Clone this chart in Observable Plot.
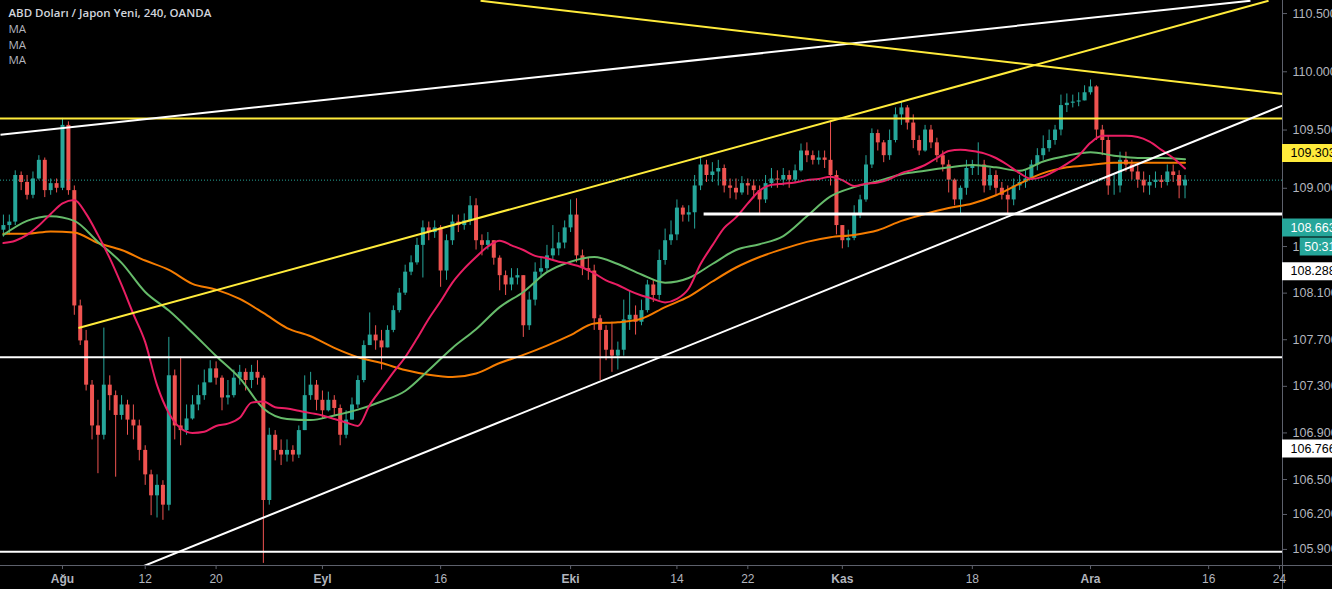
<!DOCTYPE html>
<html>
<head>
<meta charset="utf-8">
<script src="https://cdn.jsdelivr.net/npm/d3@7"></script>
<script src="https://cdn.jsdelivr.net/npm/@observablehq/plot@0.6"></script>
<style>
html, body { margin: 0; padding: 0; background: #000; }
#chart { position: relative; width: 1332px; height: 589px; overflow: hidden; background: #000; }
</style>
</head>
<body>
<div id="chart"></div>
<script>
// ---------- DATA (USD/JPY, 12h candles; t = trading-day index, 1 Aug = 0) ----------
const candleStart = -5;
const candleStep = 0.5;
const firstOpen = 108.64;
const closes = [
 108.68,108.71,109.11,109.05,108.94,109.08,109.24,108.98,109.04,109.00,
 109.54,108.98,107.99,107.69,107.31,106.96,106.88,107.31,107.22,107.05,
 107.14,107.01,106.96,106.75,106.54,106.36,106.45,106.28,107.39,106.96,
 106.92,107.02,107.14,107.22,107.33,107.45,107.37,107.20,107.22,107.37,
 107.42,107.35,107.42,107.37,106.32,106.88,106.75,106.71,106.75,106.71,
 106.92,107.22,107.31,107.18,107.09,107.18,107.11,106.88,107.01,107.14,
 107.35,107.65,107.74,107.69,107.63,107.78,107.95,108.10,108.28,108.36,
 108.51,108.66,108.62,108.66,108.29,108.55,108.71,108.68,108.72,108.85,
 108.55,108.51,108.55,108.40,108.25,108.17,108.23,108.25,107.82,108.04,
 108.28,108.31,108.42,108.48,108.53,108.66,108.77,108.42,108.31,108.29,
 107.88,107.78,107.61,107.56,107.61,107.87,107.91,107.85,107.95,108.17,
 108.08,108.38,108.55,108.60,108.83,108.77,108.79,109.02,109.20,109.11,
 109.14,109.17,109.02,109.00,108.96,109.04,109.02,108.98,108.90,109.04,
 109.08,109.07,109.11,109.07,109.15,109.32,109.28,109.24,109.26,109.24,
 109.11,108.68,108.55,108.57,108.77,108.90,109.20,109.47,109.39,109.28,
 109.41,109.63,109.69,109.56,109.41,109.32,109.50,109.39,109.28,109.20,
 109.07,108.90,109.00,109.17,109.20,109.20,109.02,109.11,109.00,108.94,
 108.90,109.02,109.05,109.08,109.20,109.28,109.34,109.41,109.50,109.71,
 109.73,109.74,109.75,109.82,109.87,109.50,109.41,109.02,109.02,109.24,
 109.20,109.14,109.07,109.02,109.05,109.07,109.05,109.14,109.11,109.02,
 109.07
];
const highs = [
 108.77,108.77,109.15,109.14,109.11,109.14,109.28,109.26,109.08,109.08,
 109.60,109.57,109.02,108.04,107.78,107.35,107.18,107.80,107.39,107.26,
 107.22,107.18,107.14,107.01,106.79,106.58,106.54,106.49,107.72,107.44,
 107.55,107.14,107.22,107.31,107.44,107.52,107.51,107.39,107.35,107.44,
 107.48,107.45,107.48,107.52,107.39,106.94,106.92,106.84,106.84,106.79,
 106.96,107.39,107.42,107.35,107.26,107.25,107.22,107.14,107.09,107.20,
 107.39,107.69,107.93,107.82,107.78,107.82,107.99,108.14,108.34,108.42,
 108.57,108.72,108.71,108.72,108.68,108.60,108.77,108.77,108.78,108.93,
 108.91,108.60,108.62,108.51,108.42,108.29,108.31,108.31,108.25,108.11,
 108.36,108.40,108.51,108.68,108.62,108.72,108.90,108.91,108.47,108.40,
 108.34,107.91,107.82,107.85,107.68,108.04,108.12,107.99,108.04,108.21,
 108.21,108.47,108.65,108.72,108.90,108.85,108.85,109.11,109.26,109.24,
 109.22,109.24,109.20,109.08,109.08,109.10,109.08,109.07,109.02,109.11,
 109.17,109.15,109.17,109.15,109.20,109.38,109.39,109.32,109.32,109.32,
 109.58,109.15,108.68,108.64,108.85,108.94,109.28,109.51,109.50,109.41,
 109.50,109.69,109.74,109.71,109.63,109.45,109.54,109.54,109.43,109.32,
 109.24,109.08,109.02,109.24,109.24,109.39,109.24,109.17,109.15,109.05,
 109.02,109.08,109.11,109.15,109.24,109.34,109.45,109.50,109.54,109.80,
 109.81,109.80,109.82,109.88,109.93,109.88,109.54,109.45,109.11,109.31,
 109.31,109.24,109.20,109.14,109.11,109.14,109.11,109.20,109.20,109.15,
 109.11
];
const lows = [
 108.58,108.60,108.68,108.98,108.90,108.91,109.07,108.92,108.94,108.96,
 108.98,108.94,107.91,107.65,107.26,106.84,106.55,106.84,107.09,106.52,
 107.01,106.88,106.84,106.66,106.45,106.19,106.17,106.15,106.23,106.84,
 106.79,106.88,107.01,107.09,107.18,107.35,107.31,107.09,107.14,107.20,
 107.31,107.26,107.28,107.31,105.78,106.28,106.66,106.62,106.65,106.65,
 106.68,106.92,107.18,107.09,107.02,107.08,107.05,106.79,106.85,107.01,
 107.11,107.33,107.65,107.61,107.44,107.65,107.76,107.93,108.08,108.25,
 108.34,108.23,108.55,108.57,108.15,108.21,108.51,108.62,108.64,108.68,
 108.47,108.42,108.47,108.34,108.12,108.08,108.12,108.17,107.72,107.78,
 107.99,108.23,108.28,108.38,108.42,108.48,108.62,108.36,108.25,108.21,
 107.78,107.35,107.52,107.42,107.44,107.56,107.78,107.74,107.82,107.93,
 108.02,108.04,108.34,108.51,108.55,108.71,108.71,108.65,108.98,109.05,
 109.05,109.02,108.96,108.91,108.90,108.94,108.94,108.91,108.78,108.87,
 109.00,109.00,109.02,109.00,109.05,109.14,109.22,109.20,109.20,109.17,
 109.02,108.60,108.48,108.49,108.55,108.74,108.88,109.17,109.32,109.22,
 109.24,109.39,109.54,109.50,109.34,109.28,109.31,109.34,109.22,109.14,
 108.96,108.85,108.77,108.94,109.11,109.11,108.96,108.98,108.94,108.90,
 108.78,108.85,108.98,109.00,109.07,109.15,109.24,109.31,109.37,109.45,
 109.65,109.69,109.70,109.75,109.80,109.41,109.28,108.94,108.94,108.96,
 109.14,109.07,109.00,108.96,108.94,109.00,109.00,109.02,109.05,108.91,
 108.91
];

// Moving averages
const maFastStart = -5, maFastStep = 1;
const maFast = [
 108.53,108.55,108.60,108.68,108.78,108.87,108.90,108.78,108.60,108.40,
 108.17,107.92,107.68,107.31,107.07,106.94,106.90,106.91,106.96,106.98,
 107.03,107.16,107.17,107.12,107.11,107.09,107.07,107.05,107.02,106.99,
 106.96,107.14,107.28,107.42,107.55,107.71,107.88,108.03,108.19,108.31,
 108.41,108.50,108.55,108.51,108.47,108.42,108.40,108.37,108.35,108.32,
 108.27,108.21,108.17,108.12,108.08,108.05,108.02,108.05,108.14,108.35,
 108.51,108.66,108.75,108.87,108.98,109.03,109.04,109.05,109.07,109.08,
 109.10,109.07,109.02,109.04,109.05,109.08,109.13,109.16,109.20,109.26,
 109.32,109.33,109.32,109.30,109.26,109.20,109.13,109.08,109.10,109.15,
 109.21,109.28,109.39,109.45,109.45,109.45,109.44,109.40,109.33,109.26,
 109.17
];
const maSlowStart = -5, maSlowStep = 2;
const maMid = [
 108.60,108.72,108.76,108.72,108.54,108.36,108.11,107.95,107.76,107.56,
 107.37,107.11,107.02,107.01,107.05,107.10,107.17,107.26,107.44,107.63,
 107.79,107.98,108.11,108.28,108.37,108.41,108.35,108.26,108.19,108.23,
 108.35,108.47,108.52,108.59,108.76,108.93,109.01,109.06,109.12,109.15,
 109.18,109.20,109.18,109.15,109.23,109.28,109.31,109.28,109.26,109.26,
 109.25
];
const maLong = [
 108.61,108.61,108.63,108.62,108.53,108.47,108.38,108.30,108.18,108.13,
 108.05,107.93,107.80,107.73,107.63,107.55,107.50,107.44,107.40,107.38,
 107.41,107.50,107.57,107.65,107.74,107.84,107.85,107.88,107.98,108.07,
 108.20,108.32,108.41,108.48,108.54,108.58,108.60,108.64,108.72,108.78,
 108.83,108.87,108.94,109.04,109.13,109.18,109.20,109.22,109.22,109.22,
 109.22
];

// Drawn trendlines (t, price) endpoints
const trendKinds = ["white", "yellow", "yellow", "white"];
const trendT1 = [-5.25, 1.35, 35.38, 6.69];
const trendP1 = [109.46, 107.80, 110.61, 105.75];
const trendT2 = [100.54, 102.07, 103.25, 103.25];
const trendP2 = [110.61, 110.61, 109.81, 109.71];
// Horizontal levels
const levelKinds = ["yellow", "white", "white"];
const levelPrices = [109.60, 107.55, 105.88];
const shortLevelStart = 54.3;
const shortLevelPrice = 108.78;

// Axis ticks
const xTickValues = [0, 7, 13, 22, 32, 43, 52, 58, 66, 77, 87, 97, 103];
const xTickLabels = ["Ağu", "12", "20", "Eyl", "16", "Eki", "14", "22", "Kas", "18", "Ara", "16", "24"];
const monthLabels = ["Ağu", "Eyl", "Eki", "Kas", "Ara"];
const yTickValues = [110.5, 110.0, 109.5, 109.0, 108.5, 108.1, 107.7, 107.3, 106.9, 106.5, 106.2, 105.9];
// Price tags on the right scale
const tagPrices = [109.303, 108.663, 108.288, 106.766];
const tagKinds = ["yellow", "teal", "white", "white"];
const countdownText = "50:31";
const titleText = "ABD Doları / Japon Yeni, 240, OANDA";
const legendItems = ["MA", "MA", "MA"];

// ---------- BUILD ----------
const UP = "#26a69a", DOWN = "#ef5350";
const palette = { yellow: "#ffeb3b", white: "#ffffff", teal: "#26a69a" };
const tagText = { yellow: "#000000", white: "#000000", teal: "#ffffff" };

const candles = closes.map((c, i) => {
  const o = i ? closes[i - 1] : firstOpen;
  return { t: candleStart + i * candleStep, o, c,
           h: Math.max(highs[i], o, c), l: Math.min(lows[i], o, c) };
});
const lastClose = closes[closes.length - 1];
const fast = maFast.map((p, i) => ({ t: maFastStart + i * maFastStep, p }));
const mid = maMid.map((p, i) => ({ t: maSlowStart + i * maSlowStep, p }));
const long = maLong.map((p, i) => ({ t: maSlowStart + i * maSlowStep, p }));
const trends = trendKinds.map((k, i) => ({ k, t1: trendT1[i], p1: trendP1[i], t2: trendT2[i], p2: trendP2[i] }));
const levels = levelKinds.map((k, i) => ({ k, p: levelPrices[i] }));
const tags = tagPrices.map((p, i) => ({ p, k: tagKinds[i], label: d3.format(".3f")(p) }));
const xTicks = xTickValues.map((t, i) => ({ t, label: xTickLabels[i] }));

const xDomain = [-5.247, 103.25];
const yDomain = [105.762, 110.612];
const tickLen = 0.035; // price units ≈ 4px
const axisFont = "'Liberation Sans Narrow','Liberation Sans',Arial,sans-serif";
const scaleFont = "'Liberation Sans',Arial,sans-serif";
const axisColor = "#5d606b";
const labelColor = "#b2b5be";
const legendFont = "'Open Sans',sans-serif";

const chart = Plot.plot({
  width: 1332,
  height: 589,
  marginLeft: 0,
  marginTop: 0,
  marginRight: 50,
  marginBottom: 24,
  style: { background: "#000", color: labelColor, overflow: "hidden" },
  x: { type: "linear", domain: xDomain, axis: null },
  y: { type: "linear", domain: yDomain, axis: null },
  marks: [
    // candles
    Plot.ruleX(candles, { x: "t", y1: "l", y2: "h", stroke: d => d.c >= d.o ? UP : DOWN, strokeWidth: 1, clip: true }),
    Plot.ruleX(candles, { x: "t", y1: "o", y2: "c", stroke: d => d.c >= d.o ? UP : DOWN, strokeWidth: 4, clip: true }),
    // moving averages
    Plot.line(long, { x: "t", y: "p", stroke: "#f57c00", strokeWidth: 2, curve: "monotone-x", clip: true }),
    Plot.line(mid, { x: "t", y: "p", stroke: "#66bb6a", strokeWidth: 2, curve: "monotone-x", clip: true }),
    Plot.line(fast, { x: "t", y: "p", stroke: "#e91e63", strokeWidth: 2, curve: "monotone-x", clip: true }),
    // horizontal levels
    Plot.ruleY(levels, { y: "p", stroke: d => palette[d.k], strokeWidth: 2, clip: true }),
    Plot.ruleY([shortLevelPrice], { y: d => d, x1: shortLevelStart, x2: xDomain[1], stroke: "#ffffff", strokeWidth: 3, clip: true }),
    // trendlines
    Plot.link(trends, { x1: "t1", y1: "p1", x2: "t2", y2: "p2", stroke: d => palette[d.k], strokeWidth: 2, clip: true }),
    // last price dotted line
    Plot.ruleY([lastClose], { y: d => d, stroke: UP, strokeWidth: 1, strokeDasharray: "1,2", clip: true }),
    // axis lines
    Plot.ruleY([yDomain[0]], { y: d => d, x1: xDomain[0], x2: xDomain[1] + 10, stroke: axisColor, strokeWidth: 1 }),
    Plot.ruleX([xDomain[1]], { x: d => d, y1: yDomain[1], y2: yDomain[0] - 1, stroke: axisColor, strokeWidth: 1 }),
    // y axis ticks & labels
    Plot.axisY({ anchor: "right", ticks: yTickValues, tickFormat: d3.format(".3f"), tickSize: 4, tickPadding: 6,
                 fontSize: 12.5, fontFamily: scaleFont, stroke: axisColor, fill: labelColor }),
    // x axis ticks
    Plot.ruleX(xTickValues, { x: d => d, y1: yDomain[0], y2: yDomain[0] - tickLen, stroke: axisColor }),
    // x labels
    Plot.text(xTicks.filter(d => monthLabels.includes(d.label)), { x: "t", y: () => yDomain[0], dy: 14, text: "label",
      fill: labelColor, fontSize: 12, fontWeight: "bold", fontFamily: axisFont }),
    Plot.text(xTicks.filter(d => !monthLabels.includes(d.label)), { x: "t", y: () => yDomain[0], dy: 14, text: "label",
      fill: labelColor, fontSize: 12, fontFamily: axisFont }),
    // price tags
    Plot.ruleY(tags, { y: "p", x1: xDomain[1], x2: xDomain[1] + 6, stroke: d => palette[d.k], strokeWidth: 18 }),
    Plot.text(tags, { y: "p", x: () => xDomain[1], dx: 8, text: "label", fill: d => tagText[d.k], textAnchor: "start",
      fontSize: 12.5, fontFamily: scaleFont }),
    Plot.ruleY([tagPrices[1]], { y: d => d, x1: xDomain[1] + 1.5, x2: xDomain[1] + 6, dy: 19, stroke: palette.teal, strokeWidth: 18 }),
    Plot.text([countdownText], { y: () => tagPrices[1], x: () => xDomain[1] + 1.5, dx: 4, dy: 19, text: d => d, fill: "#ffffff",
      textAnchor: "start", fontSize: 12.5, fontFamily: scaleFont }),
    // legend
    Plot.text([titleText], { frameAnchor: "top-left", lineAnchor: "middle", dx: 8, dy: 13, text: d => d, fill: "#d1d4dc",
      fontSize: 11.5, fontWeight: 600, fontFamily: legendFont, textAnchor: "start" }),
    Plot.text([legendItems[0]], { frameAnchor: "top-left", lineAnchor: "middle", dx: 8, dy: 29, text: d => d,
      fill: labelColor, fontSize: 11.5, fontFamily: legendFont, textAnchor: "start" }),
    Plot.text([legendItems[1]], { frameAnchor: "top-left", lineAnchor: "middle", dx: 8, dy: 45, text: d => d,
      fill: labelColor, fontSize: 11.5, fontFamily: legendFont, textAnchor: "start" }),
    Plot.text([legendItems[2]], { frameAnchor: "top-left", lineAnchor: "middle", dx: 8, dy: 60, text: d => d,
      fill: labelColor, fontSize: 11.5, fontFamily: legendFont, textAnchor: "start" })
  ]
});
document.getElementById("chart").appendChild(chart);
</script>
</body>
</html>
